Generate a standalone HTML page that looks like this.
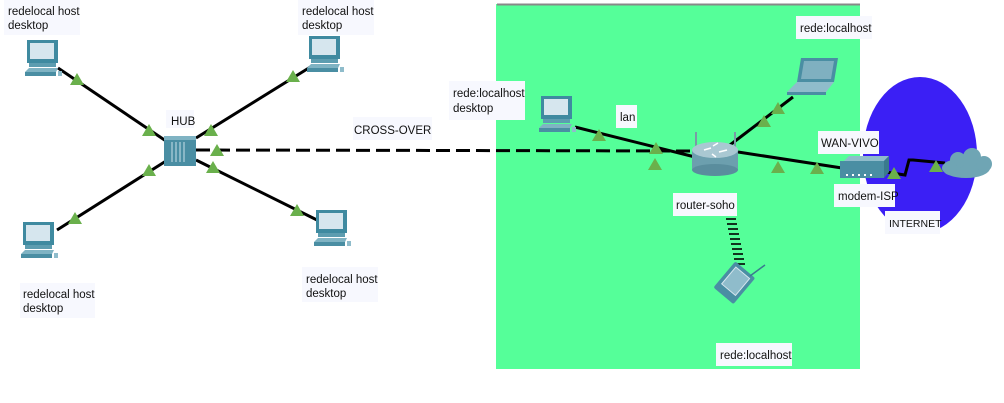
<!DOCTYPE html>
<html><head><meta charset="utf-8"><style>
html,body{margin:0;padding:0;background:#fff;}
svg{display:block;font-family:"Liberation Sans",Tahoma,sans-serif;}
.l{font-size:11.5px;fill:#111;}
</style></head><body>
<svg width="1004" height="403" viewBox="0 0 1004 403" xmlns="http://www.w3.org/2000/svg">
<defs>
<g id="pc">
  <rect x="2" y="0" width="31" height="23" fill="#3f8aa0"/>
  <rect x="5" y="3" width="24" height="16" fill="#d6e6ee"/>
  <rect x="4" y="23" width="27" height="4" fill="#5d9db0"/>
  <polygon points="0,32 4,28 33,28 31,32" fill="#7fb3c3"/>
  <rect x="0" y="32" width="31" height="4" fill="#4a8ea3"/>
  <rect x="33" y="31" width="4" height="5" fill="#8fbccb"/>
</g>
<g id="tri"><polygon points="0,-7 7,5 -7,5" fill="#6ab04c"/></g>
</defs>
<rect x="0" y="0" width="1004" height="403" fill="#fff"/>
<rect x="496" y="4" width="364" height="365" fill="#55ff99"/>
<line x1="497" y1="4.5" x2="860" y2="4.5" stroke="#888" stroke-width="2"/>
<ellipse cx="920" cy="155" rx="57" ry="78" fill="#3b1ff5"/>
<g stroke="#000" stroke-width="3" fill="none">
<line x1="58" y1="68" x2="166" y2="141"/>
<line x1="196" y1="138" x2="312" y2="66"/>
<line x1="57" y1="230" x2="166" y2="161"/>
<line x1="196" y1="160" x2="317" y2="220"/>
<line x1="575" y1="127" x2="695" y2="157" />
<line x1="793" y1="97" x2="726" y2="148"/>
<line x1="738" y1="152" x2="842" y2="168"/>
<polyline points="886,172 905,175 909,160 913,160 945,163"/>
</g>
<line x1="196" y1="150" x2="700" y2="151" stroke="#000" stroke-width="3" stroke-dasharray="14,6"/>
<g stroke="#000" stroke-width="1.6">
<line x1="722" y1="199" x2="732" y2="199"/><line x1="723" y1="204" x2="733" y2="204"/>
<line x1="724" y1="209" x2="734" y2="209"/><line x1="725" y1="214" x2="735" y2="214"/>
<line x1="726" y1="219" x2="736" y2="219"/><line x1="727" y1="224" x2="737" y2="224"/>
<line x1="728" y1="229" x2="738" y2="229"/><line x1="729" y1="234" x2="739" y2="234"/>
<line x1="730" y1="239" x2="740" y2="239"/><line x1="731" y1="244" x2="741" y2="244"/>
<line x1="732" y1="249" x2="742" y2="249"/><line x1="733" y1="254" x2="743" y2="254"/>
<line x1="734" y1="259" x2="744" y2="259"/><line x1="735" y1="264" x2="745" y2="264"/>
</g>
<use href="#pc" x="25" y="40"/>
<use href="#pc" x="307" y="36"/>
<use href="#pc" x="21" y="222"/>
<use href="#pc" x="314" y="210"/>
<use href="#pc" x="539" y="96"/>
<rect x="164" y="136" width="32" height="30" fill="#4a8ea3"/>
<rect x="164" y="136" width="32" height="4" fill="#7fb3c3"/>
<g stroke="#c8e0e8" stroke-width="1"><line x1="172" y1="142" x2="172" y2="162"/><line x1="176" y1="142" x2="176" y2="162"/><line x1="180" y1="142" x2="180" y2="162"/><line x1="184" y1="142" x2="184" y2="162"/></g>
<polygon points="801,58 838,58 834,82 797,82" fill="#4a8ea3"/>
<polygon points="804,61 834,61 831,79 801,79" fill="#7fb0c0"/>
<polygon points="797,82 834,82 826,92 787,92" fill="#8fbccb"/>
<rect x="787" y="92" width="39" height="3" fill="#4a8ea3"/>
<line x1="696" y1="147" x2="696" y2="132" stroke="#7a9aa6" stroke-width="2"/>
<line x1="735" y1="147" x2="735" y2="132" stroke="#7a9aa6" stroke-width="2"/>
<rect x="692" y="150" width="46" height="20" fill="#6c9fae"/>
<ellipse cx="715" cy="170" rx="23" ry="6" fill="#5a8d9d"/>
<ellipse cx="715" cy="150" rx="23" ry="8" fill="#a9c8d2"/>
<g stroke="#fff" stroke-width="1.5"><line x1="704" y1="150" x2="711" y2="148"/><line x1="719" y1="152" x2="727" y2="150"/><line x1="713" y1="146" x2="718" y2="143"/><line x1="712" y1="154" x2="716" y2="157"/></g>
<polygon points="844,161 884,161 889,156 849,156" fill="#8fbccb"/>
<rect x="840" y="161" width="44" height="17" fill="#4a8ea3"/>
<polygon points="884,161 889,156 889,172 884,178" fill="#3a7a8e"/>
<g fill="#fff"><rect x="846" y="174" width="2" height="2"/><rect x="852" y="174" width="2" height="2"/><rect x="858" y="174" width="2" height="2"/><rect x="864" y="174" width="2" height="2"/><rect x="870" y="174" width="2" height="2"/></g>
<g fill="#6fa5b4"><ellipse cx="966" cy="168" rx="24" ry="10"/><circle cx="958" cy="160" r="8"/><circle cx="972" cy="157" r="9"/><circle cx="984" cy="164" r="8"/><circle cx="950" cy="168" r="7"/></g>
<g transform="rotate(40 735 282)">
<rect x="722" y="266" width="26" height="34" rx="2" fill="#4a8ea3"/>
<rect x="726" y="270" width="18" height="22" fill="#8fbccb" stroke="#d6e6ee" stroke-width="1"/>
</g>
<line x1="750" y1="276" x2="765" y2="265" stroke="#3a7a8e" stroke-width="1.5"/>
<use href="#tri" x="77" y="80"/><use href="#tri" x="149" y="131"/><use href="#tri" x="149" y="171"/>
<use href="#tri" x="75" y="219"/><use href="#tri" x="211" y="131"/><use href="#tri" x="217" y="151"/>
<use href="#tri" x="213" y="168"/><use href="#tri" x="293" y="77"/><use href="#tri" x="297" y="211"/>
<use href="#tri" x="599" y="136"/><use href="#tri" x="656" y="149"/><use href="#tri" x="655" y="165"/>
<use href="#tri" x="764" y="122"/><use href="#tri" x="778" y="109"/><use href="#tri" x="778" y="168"/>
<use href="#tri" x="817" y="169"/><use href="#tri" x="894" y="174"/><use href="#tri" x="936" y="167"/>
<g fill="#f7f8fe">
<rect x="4" y="0" width="76" height="35"/><rect x="298" y="0" width="76" height="35"/>
<rect x="20" y="283" width="75" height="35"/><rect x="302" y="267" width="76" height="35"/>
<rect x="166" y="110" width="28" height="18"/><rect x="353" y="117" width="79" height="23"/>
<rect x="449" y="81" width="76" height="39"/><rect x="616" y="105" width="21" height="23"/>
<rect x="796" y="16" width="76" height="23"/><rect x="818" y="131" width="61" height="23"/>
<rect x="673" y="193" width="64" height="23"/><rect x="834" y="184" width="61" height="23"/>
<rect x="885" y="211" width="55" height="23"/><rect x="716" y="343" width="76" height="23"/>
</g>
<g class="l">
<text x="8" y="15">redelocal host</text><text x="8" y="29">desktop</text>
<text x="302" y="15">redelocal host</text><text x="302" y="29">desktop</text>
<text x="23" y="298">redelocal host</text><text x="23" y="312">desktop</text>
<text x="306" y="283">redelocal host</text><text x="306" y="297">desktop</text>
<text x="171" y="125">HUB</text><text x="354" y="134">CROSS-OVER</text>
<text x="453" y="97">rede:localhost</text><text x="453" y="112">desktop</text>
<text x="620" y="121">lan</text>
<text x="800" y="32">rede:localhost</text>
<text x="821" y="147">WAN-VIVO</text>
<text x="676" y="209">router-soho</text>
<text x="838" y="200">modem-ISP</text>
<text x="889" y="227" style="font-size:10.5px">INTERNET</text>
<text x="720" y="359">rede:localhost</text>
</g>
</svg>
</body></html>
